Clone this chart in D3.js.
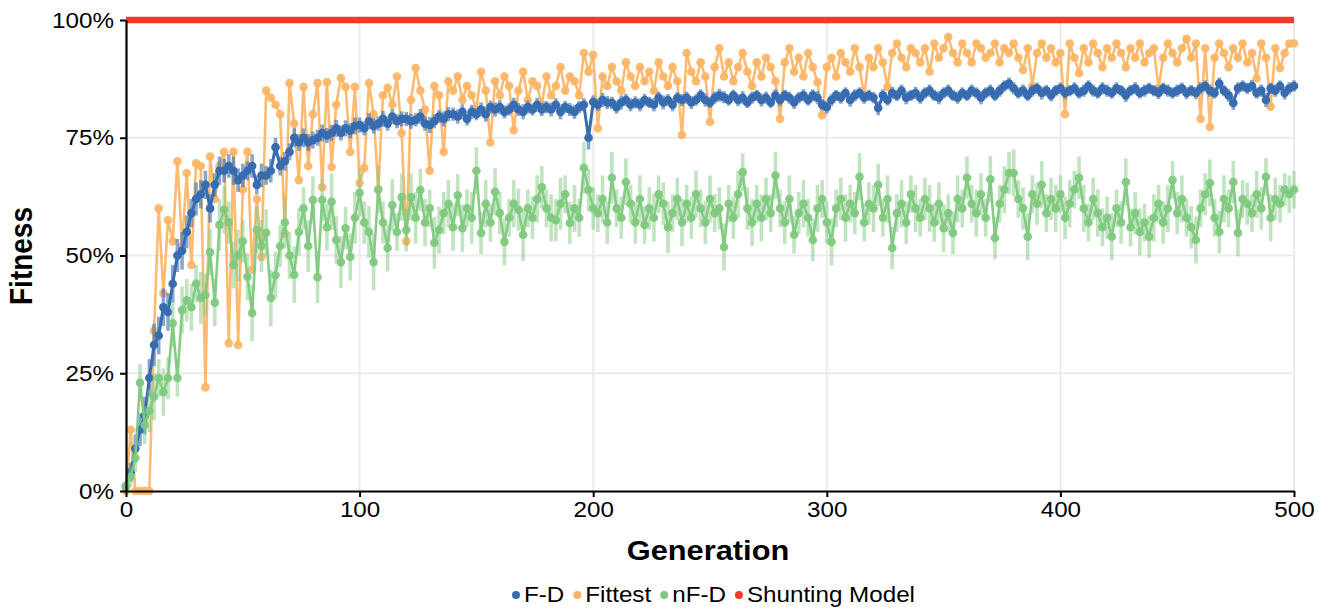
<!DOCTYPE html>
<html><head><meta charset="utf-8">
<script src="https://cdn.jsdelivr.net/npm/d3@7"></script>
<style>body{margin:0;background:#fff}svg{display:block}text{font-family:"Liberation Sans",Arial,sans-serif}</style>
</head><body><svg id="c" width="1325" height="608"></svg>
<script>
// Generations sampled every 2 steps, 0..500
const generations = d3.range(0, 501, 2);
const yTicks = [0, 25, 50, 75, 100];
const xTicks = [0, 100, 200, 300, 400, 500];
const seriesNames = ["F-D", "Fittest", "nF-D", "Shunting Model"];

const fdMean = [
1,4,9,13,16,24,31,33,39,38,
44,50,51,55,59,62,63,65,60,65,
68,68,69,68,66,67,68,69,65,67,
67,68,73,69,70,72,75,74,75,74,
74.5,75,76,75.5,76,77,76,77,76.5,77.5,
77.7,77,78.5,77.5,78,79,78,79.5,78.5,79,
79,78.5,78.8,79.5,78,77.7,78.5,79.5,79,80,
80,79.5,80.5,79,80.5,80,81,80,81.5,81,
81.5,80.5,81,82,81,80.5,81.5,81,82,81,
81.5,81,82,80.5,81.5,81,80.5,81.5,82,75,
82.6,82,83,82.5,82.4,81.5,82.5,83,82,82.5,
82,83,82.5,82,83.5,82.5,83,82,83.5,83,
83.5,82.5,83,84,83,82.5,83.5,84,83.6,83,
84,83,83.5,82.5,83.5,84,83,83.5,82.5,84,
83,84,83.5,82.5,83.5,84,83,84,83.5,82,
81.5,83,84,83.5,84.5,83,84,84.5,83.5,84,
83.5,81.3,84,83,84.5,84,85,83.5,84,84.5,
83.5,84.5,85,84,83.5,84.5,85,84,83.5,84.5,
84,85,84.5,83.5,84.5,85,84,85,86,86.5,
85.5,84.5,85,84,85,85.5,84.5,85,84,85,
85.5,84.5,85,85.5,84.5,85,86,85,84.5,85.5,
85,84.5,85.5,85,84,85,85.5,84.5,85,85.5,
85,84.5,85.5,85,84.5,85,85.5,84.5,85,84.5,
85.5,86,85,84.5,86.5,85,84,82.4,85.5,86,
85.5,86,84.5,85,83,85.5,85,86,84.5,85.5,
86];
const fdErr = [
1,2,3,3.5,4,4,4.5,4,4,4,
4,3.5,4,3.5,3,3.5,3,3,3,2.5,
3,2.5,2.5,3,2.5,2.5,2,2.5,2,2.5,
2,2.5,2,2,2,1.8,2,1.8,2,1.8,
1.8,1.7,1.8,1.6,1.7,1.8,1.6,1.7,1.6,1.8,
1.6,1.5,1.7,1.6,1.5,1.7,1.5,1.6,1.5,1.6,
1.5,1.6,1.4,1.6,1.5,1.7,1.5,1.4,1.6,1.5,
1.4,1.5,1.6,1.4,1.5,1.3,1.5,1.6,1.4,1.5,
1.5,1.4,1.3,1.5,1.4,1.6,1.4,1.3,1.5,1.4,
1.3,1.5,1.4,1.6,1.3,1.4,1.5,1.3,1.4,2.5,
1.4,1.3,1.5,1.4,1.3,1.4,1.5,1.3,1.4,1.3,
1.4,1.3,1.2,1.4,1.3,1.5,1.3,1.4,1.2,1.3,
1.3,1.4,1.2,1.3,1.4,1.2,1.3,1.4,1.3,1.2,
1.2,1.3,1.4,1.2,1.3,1.2,1.4,1.3,1.2,1.3,
1.3,1.2,1.3,1.4,1.2,1.3,1.2,1.3,1.4,1.2,
1.4,1.3,1.2,1.3,1.2,1.4,1.3,1.2,1.3,1.2,
1.2,1.5,1.3,1.2,1.3,1.2,1.3,1.4,1.2,1.3,
1.3,1.2,1.3,1.2,1.4,1.2,1.3,1.2,1.3,1.2,
1.2,1.3,1.2,1.4,1.2,1.3,1.2,1.3,1.2,1.3,
1.3,1.2,1.3,1.2,1.3,1.2,1.4,1.2,1.3,1.2,
1.2,1.3,1.2,1.3,1.2,1.3,1.2,1.3,1.2,1.3,
1.3,1.2,1.3,1.2,1.4,1.2,1.3,1.2,1.3,1.2,
1.2,1.3,1.2,1.3,1.2,1.3,1.2,1.3,1.2,1.3,
1.3,1.2,1.3,1.2,1.3,1.2,1.4,1.5,1.3,1.2,
1.2,1.3,1.2,1.3,1.5,1.2,1.3,1.2,1.4,1.3,
1.2];
const fittest = [
0,13,0,0,0,0,34,60,42,57.5,
53,70,52,67.5,48,69.6,69,22,71,62,
69,72,31.4,72,31,64,72,47,62,49.7,
85,83.5,82,80,54.7,86.6,78,66,85.8,69,
80,86.6,64.5,86.8,68.8,82,87.7,85.8,72,85.8,
65.4,68.6,86.6,80,64,84,85.6,82,88,76,
53,83,89.8,85,81,68,86,84,72,87,
85,88,83,86,84,81,89,85,74,87,
84,88,86,76.6,85,89,83,87,86,82,
88,84,86,90,85,88,87,84,93,89,
92.6,77,88,86,90,87,85,91,88,86,
90,87,89,85,91,88,86,90,87,75.6,
93,89,87,91,88,78.4,90,94,88,91,
87,90,93,89,86,91,88,92,90,87,
79,91,94,89,92,88,93,90,86.8,79.8,
90,92,88,93,91,89,94,90,83.7,92,
90,94,91,85.8,93,95,92,90,94,93,
91,94,89,95,92,94,96.4,93,91,95,
93,91,95,94,92,93,95,91,94,93,
95,92,89.4,94,86,93,95,92,94,91,
93,80,95,92,88.7,94,91,95,93,90,
94,92,95,93,90,94,92,95,91,93,
94,85.5,92,95,93,91,94,96,92,95,
79,94,77.3,92,95,93,90,94,92,95,
91,93,87.6,95,92,81.6,94,89.8,93,95,
95];
const nfdMean = [
1,3,7,23,14,17,20,24,21,24,
35.6,24,38.4,40.5,39,44,41,41.6,50.7,40,
56.5,59.7,57,48,50,53,45.5,37.8,55.4,52,
54.8,41,45.8,52,57,50,45.9,55,60,52,
61.8,45.4,61.8,56,61.4,53.3,48.6,55.8,49.7,58,
63.3,57,55,48.6,64,57,51.6,60.7,55,62.4,
55.4,62.4,58,63.9,57,60,52.7,55.4,59,61,
56,62.8,55.8,60,58,68,54.8,61,57,63.5,
59,52.9,58,61,59.7,54.4,60,58,62,64.5,
60,58,57.5,61,63,56.9,60,58,68.6,63.9,
60,59,62,57,66.5,60,58,65.6,61,57,
62,56.5,60,58,63,61,56,59,62,57,
61,58,63,60,57,62,59,60,51.8,61,
58,63,67.7,60,57,61,58,62,59,67,
60,57,62,54.4,59,61,58,53.3,60,62,
57,52.9,60,62,58,61,59,66.7,57,61,
60,65,58,62,51.6,59,61,57,63,60,
58,62,60,57,61,55.8,59,54.8,62,60,
66.5,61,59,63,58,66.2,53.7,61,64,67.5,
67.5,62,60,54,63,61,65,59,62,60,
63,58,61,64,66.5,60,57,62,59,56,
58,54,60,57,65.6,56,59,55,57,54,
58,61,57,60,66,59,62,58,56,53.3,
60,63,65.4,58,55,62,60,65.6,54.8,62,
61,59,63,60,66.7,58,62,61,64,63,
64];
const nfdErr = [
1,2,3,4,4,4.5,5,4,5,4.5,
5,4,5,4.5,5,4,5.5,4.5,5,5,
5.5,5,4.5,5,5.5,4.5,5,6,5,5.5,
5,6,5,4.5,5.5,5,6,5,4.5,5.5,
5,5.5,4.5,5,6,5,5.5,4.5,5,5.5,
5,4.5,5.5,6,5,4.5,5,5.5,4,5,
4.5,5,5.5,4.5,5,4,5.5,5,4.5,5,
5,4.5,5,4,5.5,5,4.5,5,4,5,
4.5,5,4,5,4.5,5.5,4,4.5,5,4.5,
4,5,4.5,5.5,4,4.5,5,4,5.5,4.5,
4.5,4,5,4.5,5.5,4,4.5,5,4,4.5,
5,4,4.5,5,4,4.5,5.5,4,4.5,5,
4,4.5,5,4,4.5,5,4,4.5,5,4,
4.5,5,4,4.5,5,4,5,4.5,4,5,
4,4.5,5,4,4.5,5,4,4.5,5,4,
4.5,5,4,4.5,5,4,4.5,5,4,4.5,
5,4.5,4,5,4.5,4,5,4.5,4,5,
4,4.5,5,4,4.5,5,4,4.5,5,4,
4.5,4,5,4.5,4,5,4.5,4,5,4.5,
5,4,4.5,5,4,4.5,5,4,4.5,5,
4,4.5,5,4,4.5,5,4,4.5,5,4,
4.5,5,4,4.5,5,4,4.5,5,4,4.5,
5,4,4.5,5,4,4.5,5,4,4.5,5,
4,4.5,5,4,4.5,5,4,4.5,5,4,
4.5,4,5,4.5,4,5,4.5,4,3.5,4,
4];
const shuntGens = [0, 500];
const shuntVals = [100, 100];

const colors = {"F-D":"#386cb0","Fittest":"#fdb462","nF-D":"#7fc97f","Shunting Model":"#ef3b2c"};

const svg = d3.select("#c");
const x = d3.scaleLinear().domain([0,500]).range([126,1294]);
const y = d3.scaleLinear().domain([0,100]).range([491,20]);
const SX = 1.1; // horizontal stretch of text in the reference

// grid
svg.append("g").selectAll("line").data([25,50,75]).join("line")
  .attr("x1",x(0)).attr("x2",x(500)).attr("y1",d=>y(d)).attr("y2",d=>y(d))
  .attr("stroke","#ebebeb").attr("stroke-width",2);
svg.append("g").selectAll("line").data([100,200,300,400,500]).join("line")
  .attr("x1",d=>x(d)).attr("x2",d=>x(d)).attr("y1",y(0)).attr("y2",y(100))
  .attr("stroke","#ebebeb").attr("stroke-width",2);

function mk(vals, errs){ return generations.map((g,i)=>({g, v:vals[i], e: errs?errs[i]:0})); }
const fd = mk(fdMean, fdErr), ft = mk(fittest, null), nf = mk(nfdMean, nfdErr);
const line = d3.line().x(d=>x(d.g)).y(d=>y(d.v));

function drawSeries(data, col, hasErr, opts){
  const g = svg.append("g");
  if(hasErr){
    g.append("g").selectAll("line").data(data).join("line")
      .attr("x1",d=>x(d.g)).attr("x2",d=>x(d.g))
      .attr("y1",d=>y(Math.max(0,d.v-d.e))).attr("y2",d=>y(Math.min(100,d.v+d.e)))
      .attr("stroke",col).attr("stroke-width",opts.ew).attr("stroke-opacity",opts.ea);
  }
  g.append("path").datum(data).attr("d",line).attr("fill","none")
    .attr("stroke",col).attr("stroke-width",opts.lw).attr("stroke-opacity",opts.la);
  g.append("g").selectAll("circle").data(data).join("circle")
    .attr("cx",d=>x(d.g)).attr("cy",d=>y(d.v)).attr("r",opts.r)
    .attr("fill",col).attr("fill-opacity",opts.pa);
}
drawSeries(ft, colors["Fittest"], false, {lw:2.6, la:0.9, r:4.3, pa:0.9});
drawSeries(fd, colors["F-D"], true, {ew:3.6, ea:0.6, lw:3, la:1, r:4.3, pa:1});
drawSeries(nf, colors["nF-D"], true, {ew:3.6, ea:0.5, lw:2.6, la:0.95, r:4.3, pa:0.95});

// Shunting model
svg.append("path").datum(shuntGens.map((g,i)=>({g, v:shuntVals[i]})))
  .attr("d",line).attr("fill","none").attr("stroke",colors["Shunting Model"]).attr("stroke-width",6.5);

// axes
const yAxis = svg.append("g").attr("transform",`translate(${x(0)},0)`)
  .call(d3.axisLeft(y).tickValues(yTicks).tickFormat(d=>d+"%").tickSize(6).tickSizeOuter(0).tickPadding(5));
const xAxis = svg.append("g").attr("transform",`translate(0,${y(0)})`)
  .call(d3.axisBottom(x).tickValues(xTicks).tickFormat(d3.format("d")).tickSize(6).tickSizeOuter(0).tickPadding(4));
[yAxis,xAxis].forEach(a=>{
  a.select(".domain").attr("stroke","#000").attr("stroke-width",2.2);
  a.selectAll(".tick line").attr("stroke","#000").attr("stroke-width",2);
  a.selectAll(".tick text").attr("font-size",22).attr("fill","#000")
    .attr("font-family","Liberation Sans, Arial, sans-serif").attr("transform",`scale(${SX},1)`);
});

// titles
svg.append("text").attr("transform",`translate(708,560) scale(${SX},1)`).attr("text-anchor","middle")
  .attr("font-size",28).attr("font-weight","bold").text("Generation");
svg.append("text").attr("transform",`translate(32,256) rotate(-90) scale(1,${SX})`).attr("text-anchor","middle")
  .attr("font-size",28).attr("font-weight","bold").text("Fitness");

// legend
const leg = svg.append("g");
let cx = 0;
seriesNames.forEach(n=>{
  const gi = leg.append("g").attr("transform",`translate(${cx},0)`);
  gi.append("circle").attr("cx",5).attr("cy",-7).attr("r",4).attr("fill",colors[n]);
  const t = gi.append("text").attr("x",0).attr("y",0).attr("font-size",22)
    .attr("transform",`translate(13,0) scale(${SX},1)`).text(n);
  const w = t.node().getComputedTextLength()*SX;
  cx += 13 + w + 8;
});
const total = cx - 8;
leg.attr("transform",`translate(${713 - total/2},602)`);
</script></body></html>
